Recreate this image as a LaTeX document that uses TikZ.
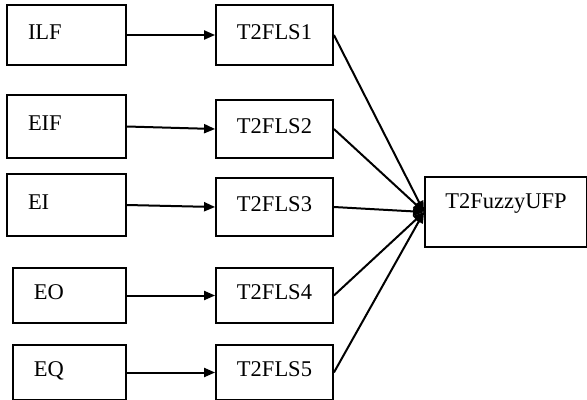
\documentclass[tikz,border=0pt]{standalone}
\usepackage{fontspec}
\setmainfont{Liberation Serif}
\usetikzlibrary{arrows.meta}
\begin{document}
\begin{tikzpicture}[x=0.6pt,y=-0.6pt,
    box/.style={draw,line width=1.1pt,inner ysep=0pt,
      font=\fontsize{13.5}{16}\selectfont,text height=8.5pt,text depth=3.3pt},
    inbox/.style={box,inner xsep=12.6pt,align=left},
    flsbox/.style={box,inner xsep=0pt,minimum width=70.2pt,align=center},
    arr/.style={line width=1.2pt,-{Triangle[length=6.6pt,width=5.4pt]}}]
  \useasboundingbox (0,0) rectangle (587,399);

  \node[inbox,text width=46.2pt,minimum height=36pt]   (ilf) at (66.5,35)    {ILF};
  \node[inbox,text width=46.2pt,minimum height=37.8pt] (eif) at (66.5,126.5) {EIF};
  \node[inbox,text width=46.2pt,minimum height=37.2pt] (ei)  at (66.5,205)   {EI};
  \node[inbox,text width=42.6pt,minimum height=33pt]   (eo)  at (69.5,295.5) {EO};
  \node[inbox,text width=42.6pt,minimum height=33pt]   (eq)  at (69.5,372.5) {EQ};

  \node[flsbox,minimum height=36pt]   (fls1) at (274.5,35)    {T2FLS1};
  \node[flsbox,minimum height=34.8pt] (fls2) at (274.5,129)   {T2FLS2};
  \node[flsbox,minimum height=34.8pt] (fls3) at (274.5,207)   {T2FLS3};
  \node[flsbox,minimum height=33pt]   (fls4) at (274.5,295.5) {T2FLS4};
  \node[flsbox,minimum height=33pt]   (fls5) at (274.5,372.5) {T2FLS5};

  \node[box,text depth=13.3pt,inner xsep=0pt,minimum width=97.2pt,minimum height=42pt] (ufp) at (506,212) {T2FuzzyUFP};

  \draw[arr] (ilf.east) -- (fls1.west);
  \draw[arr] (eif.east) -- (fls2.west);
  \draw[arr] (ei.east) -- (fls3.west);
  \draw[arr] (eo.east) -- (fls4.west);
  \draw[arr] (eq.east) -- (fls5.west);

  \draw[arr] (fls1.east) -- (ufp.west);
  \draw[arr] (fls2.east) -- (ufp.west);
  \draw[arr] (fls3.east) -- (ufp.west);
  \draw[arr] (fls4.east) -- (ufp.west);
  \draw[arr] (fls5.east) -- (ufp.west);
\end{tikzpicture}
\end{document}
